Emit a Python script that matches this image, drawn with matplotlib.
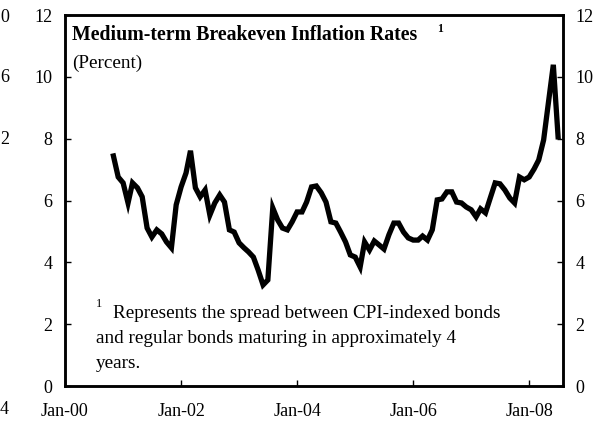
import pandas as pd
import matplotlib.pyplot as plt
import matplotlib.dates as mdates

plt.rcParams['font.family'] = ['Liberation Serif', 'DejaVu Serif']

# monthly breakeven rates, Nov 2000 - Jul 2008
rates = [7.44, 6.76, 6.57, 5.92, 6.57, 6.41, 6.12, 5.11, 4.82, 5.05, 4.92, 4.66,
         4.47, 5.86, 6.44, 6.89, 7.61, 6.41, 6.12, 6.34, 5.53, 5.92, 6.18,
         5.95, 5.05, 4.98, 4.63, 4.47, 4.34, 4.17, 3.75, 3.27, 3.43, 5.76, 5.37,
         5.11, 5.05, 5.31, 5.63, 5.63, 5.95, 6.44, 6.47, 6.25, 5.95, 5.31,
         5.27, 4.98, 4.66, 4.24, 4.17, 3.85, 4.66, 4.40, 4.69, 4.56, 4.43, 4.89,
         5.27, 5.27, 4.98, 4.79, 4.72, 4.72, 4.85, 4.72, 5.05, 6.02, 6.05, 6.28, 6.28,
         5.95, 5.92, 5.79, 5.70, 5.47, 5.73, 5.60, 6.08, 6.57, 6.54, 6.34, 6.08,
         5.92, 6.76, 6.67, 6.76, 7.02, 7.31, 7.96, 9.16, 10.39, 8.06]
dates = pd.date_range('2000-11-01', periods=len(rates), freq='MS')

tick_years = [2000, 2002, 2004, 2006, 2008]
yticks = [0, 2, 4, 6, 8, 10, 12]

title = 'Medium-term Breakeven Inflation Rates'
subtitle = '(Percent)'
note = ['Represents the spread between CPI-indexed bonds',
        'and regular bonds maturing in approximately 4',
        'years.']

fig = plt.figure(figsize=(6.05, 4.24), dpi=100)
ax = fig.add_axes([0.1074, 0.0896, 0.8232, 0.875])
ax.plot(dates, rates, color='black', lw=3.8, solid_joinstyle='miter')

ax.set_xlim(pd.Timestamp('2000-01-01'), pd.Timestamp('2008-08-01'))
ax.set_ylim(0, 12)
ax.set_xticks([pd.Timestamp(f'{y}-01-01') for y in tick_years])
ax.xaxis.set_major_formatter(mdates.DateFormatter('Jan-%y'))
ax.set_yticks(yticks)
ax.tick_params(direction='in', length=4, width=1, labelsize=13)
ax.tick_params(axis='x', pad=12.5)
ax.tick_params(axis='y', pad=9)
for s in ax.spines.values():
    s.set_linewidth(1.8)

ax2 = ax.twinx()
ax2.set_ylim(0, 12)
ax2.set_yticks(yticks)
ax2.tick_params(direction='in', length=4, width=1, labelsize=13, pad=9)
for s in ax2.spines.values():
    s.set_linewidth(1.8)

ax.text(0.015, 0.945, title, transform=ax.transAxes, fontsize=14.3,
        fontweight='bold', va='center')
ax.text(0.747, 0.963, '1', transform=ax.transAxes, fontsize=8.5,
        fontweight='bold', va='center')
ax.text(0.015, 0.87, subtitle, transform=ax.transAxes, fontsize=13.8, va='center')

ax.text(0.062, 0.22, '1', transform=ax.transAxes, fontsize=9, va='center')
ax.text(0.097, 0.195, note[0], transform=ax.transAxes, fontsize=13.8, va='center')
ax.text(0.062, 0.128, note[1], transform=ax.transAxes, fontsize=13.8, va='center')
ax.text(0.062, 0.061, note[2], transform=ax.transAxes, fontsize=13.8, va='center')

# edge of the neighbouring chart's labels
for lab, y in zip(['0', '6', '2', '4'], [17, 77, 139, 410]):
    fig.text(0.0, 1 - y / 424, lab, fontsize=13, ha='left', va='center')

fig.savefig('out.png', dpi=100)
